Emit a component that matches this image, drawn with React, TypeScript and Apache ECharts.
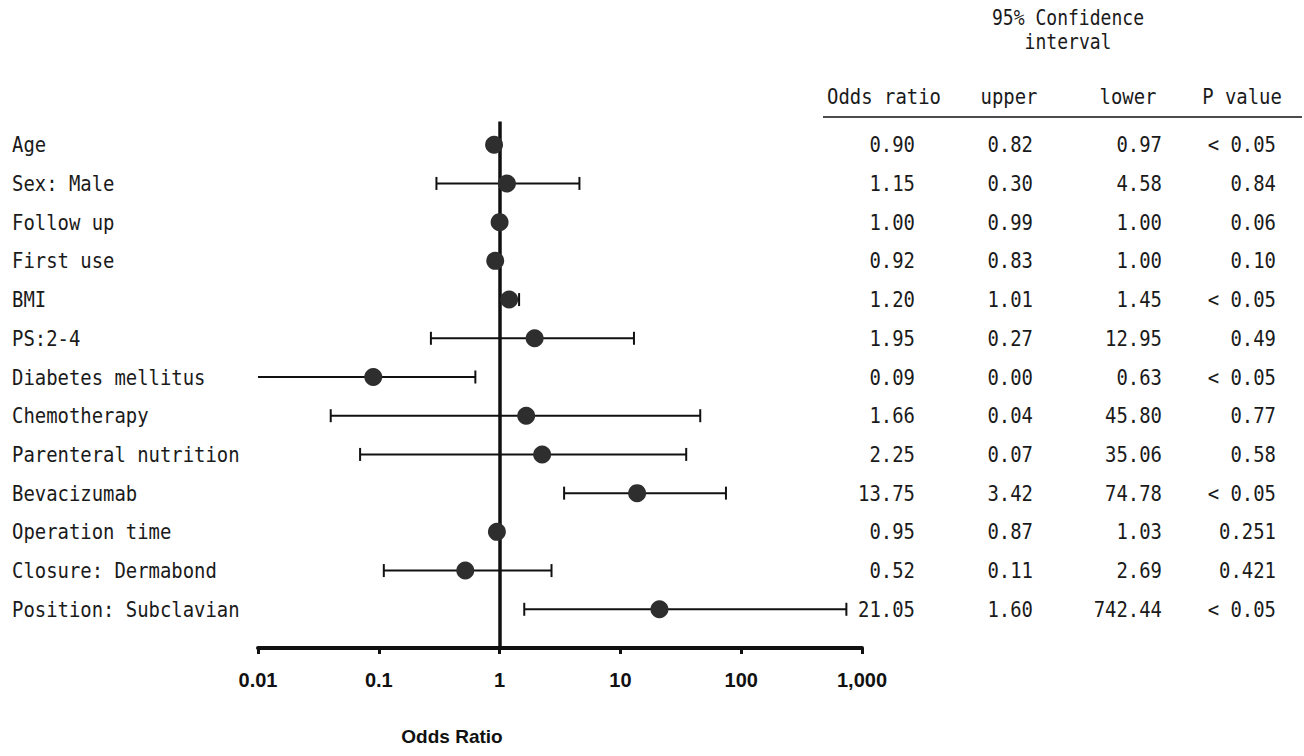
import React, { useEffect, useRef } from "react";
import * as echarts from "echarts";

const categories = [
  "Age",
  "Sex: Male",
  "Follow up",
  "First use",
  "BMI",
  "PS:2-4",
  "Diabetes mellitus",
  "Chemotherapy",
  "Parenteral nutrition",
  "Bevacizumab",
  "Operation time",
  "Closure: Dermabond",
  "Position: Subclavian",
];
const oddsRatio = [0.9, 1.15, 1.0, 0.92, 1.2, 1.95, 0.09, 1.66, 2.25, 13.75, 0.95, 0.52, 21.05];
// column headed "upper" (holds the lower bound of the interval)
const ciUpperCol = [0.82, 0.3, 0.99, 0.83, 1.01, 0.27, 0.0, 0.04, 0.07, 3.42, 0.87, 0.11, 1.6];
// column headed "lower" (holds the upper bound of the interval)
const ciLowerCol = [0.97, 4.58, 1.0, 1.0, 1.45, 12.95, 0.63, 45.8, 35.06, 74.78, 1.03, 2.69, 742.44];
const pValues = ["< 0.05", "0.84", "0.06", "0.10", "< 0.05", "0.49", "< 0.05", "0.77", "0.58", "< 0.05", "0.251", "0.421", "< 0.05"];
const xTickLabels = ["0.01", "0.1", "1", "10", "100", "1,000"];
const tableHeaders = ["Odds ratio", "upper", "lower", "P value"];

const MONO = "'DejaVu Sans Mono', monospace";
const TXT = "#1a1a1a";
const SX = 0.86;
const FS = 22;

export default function App() {
  const ref = useRef<HTMLDivElement>(null);
  useEffect(() => {
    document.body.style.margin = "0";
    const chart = echarts.init(ref.current!, null, { renderer: "svg" });
    const AX_MIN = 0.01;

    const textEl = (text: string, x: number, y: number, align: string) => ({
      type: "text",
      x,
      y,
      scaleX: SX,
      style: {
        text,
        fill: TXT,
        fontSize: FS,
        fontFamily: MONO,
        align,
        verticalAlign: "middle",
        textAlign: align,
        textVerticalAlign: "middle",
      },
    });

    const option: any = {
      animation: false,
      backgroundColor: "#ffffff",
      grid: { left: 258, right: 442, top: 106, bottom: 108 },
      xAxis: {
        type: "log",
        logBase: 10,
        min: 0.01,
        max: 1000,
        position: "bottom",
        axisLine: { show: true, onZero: false, lineStyle: { color: "#111", width: 4 } },
        axisTick: { show: true, length: 6, lineStyle: { color: "#111", width: 3 } },
        minorTick: { show: false },
        splitLine: { show: false },
        axisLabel: {
          margin: 22,
          color: "#111",
          fontSize: 20,
          fontWeight: "bold",
          fontFamily: "'Liberation Sans', Arial, sans-serif",
          formatter: (v: number) => {
            const idx = Math.round(Math.log10(v)) + 2;
            return xTickLabels[idx] ?? "";
          },
        },
      },
      yAxis: {
        type: "value",
        inverse: true,
        min: -1,
        max: 13,
        show: false,
      },
      graphic: [
        {
          type: "text",
          x: 1068,
          y: 18,
          scaleX: SX,
          style: { text: "95% Confidence", fill: TXT, fontSize: 21, fontFamily: MONO, align: "center", verticalAlign: "middle" },
        },
        {
          type: "text",
          x: 1068,
          y: 42,
          scaleX: SX,
          style: { text: "interval", fill: TXT, fontSize: 21, fontFamily: MONO, align: "center", verticalAlign: "middle" },
        },
        ...tableHeaders.map((h, k) => ({
          type: "text",
          x: [884, 1009, 1128, 1242][k],
          y: 96,
          scaleX: SX,
          style: { text: h, fill: TXT, fontSize: FS, fontFamily: MONO, align: "center", verticalAlign: "middle" },
        })),
        {
          type: "line",
          shape: { x1: 823, y1: 117, x2: 1302, y2: 117 },
          style: { stroke: "#111", lineWidth: 1.5 },
        },
        {
          type: "text",
          x: 452,
          y: 736,
          style: {
            text: "Odds Ratio",
            fill: "#111",
            fontSize: 19,
            fontWeight: "bold",
            fontFamily: "'Liberation Sans', Arial, sans-serif",
            align: "center",
            verticalAlign: "middle",
          },
        },
      ],
      series: [
        {
          type: "custom",
          name: "ci",
          z: 2,
          data: categories.map((_, i) => [ciUpperCol[i], ciLowerCol[i], i]),
          encode: { x: [0, 1], y: 2 },
          renderItem: (params: any, api: any) => {
            const lo = api.value(0);
            const hi = api.value(1);
            const row = api.value(2);
            const loC = Math.max(lo, AX_MIN);
            const p1 = api.coord([loC, row]);
            const p2 = api.coord([hi, row]);
            const y = p1[1];
            const cap = 6.5;
            const stl = { stroke: "#111", lineWidth: 2 };
            const children: any[] = [
              { type: "line", shape: { x1: p1[0], y1: y, x2: p2[0], y2: y }, style: stl },
              { type: "line", shape: { x1: p2[0], y1: y - cap, x2: p2[0], y2: y + cap }, style: stl },
            ];
            if (lo >= AX_MIN) {
              children.push({ type: "line", shape: { x1: p1[0], y1: y - cap, x2: p1[0], y2: y + cap }, style: stl });
            }
            return { type: "group", children };
          },
        },
        {
          type: "scatter",
          name: "Odds ratio",
          z: 4,
          symbol: "circle",
          symbolSize: 18,
          itemStyle: { color: "#2e2e2e", opacity: 1 },
          data: categories.map((_, i) => [oddsRatio[i], i]),
          markLine: {
            silent: true,
            symbol: ["none", "none"],
            label: { show: false },
            lineStyle: { color: "#111", width: 3.5, type: "solid" },
            z: 3,
            data: [[{ coord: [1, -0.6] }, { coord: [1, 13] }]],
          },
        },
        {
          type: "custom",
          name: "table",
          z: 5,
          clip: false,
          data: categories.map((_, i) => [1, i]),
          encode: { x: 0, y: 1 },
          renderItem: (params: any, api: any) => {
            const i = params.dataIndex;
            const y = api.coord([1, api.value(1)])[1];
            return {
              type: "group",
              children: [
                textEl(categories[i], 12, y, "left"),
                textEl(oddsRatio[i].toFixed(2), 915, y, "right"),
                textEl(ciUpperCol[i].toFixed(2), 1033, y, "right"),
                textEl(ciLowerCol[i].toFixed(2), 1162, y, "right"),
                textEl(pValues[i], 1276, y, "right"),
              ],
            };
          },
        },
      ],
    };
    chart.setOption(option);
    return () => chart.dispose();
  }, []);
  return <div ref={ref} style={{ position: "fixed", left: 0, top: 0, width: 1304, height: 756 }} />;
}
